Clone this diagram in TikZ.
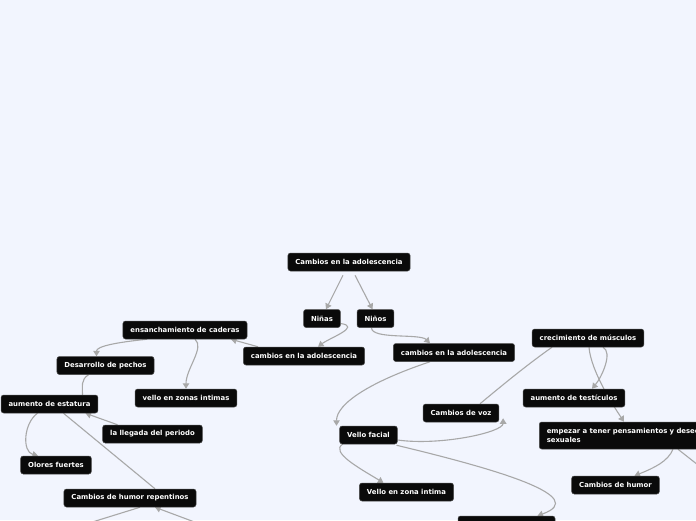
\documentclass[tikz,border=0pt]{standalone}
\usepackage{fontspec}
\setsansfont{DejaVu Sans}
\usepackage{xcolor}
\usepackage{tikz}
\usetikzlibrary{arrows.meta,backgrounds,calc,positioning}
\definecolor{paper}{HTML}{F2F5FE}
\definecolor{ink}{HTML}{0A0A0A}
\definecolor{rim}{HTML}{4A4A4A}
\definecolor{wire}{HTML}{A8A8A8}
\pgfdeclarelayer{paperlayer}
\pgfsetlayers{paperlayer,background,main}
\tikzset{
  font=\sffamily,
  topic/.style={
    draw=rim, line width=0.5pt, fill=ink, rounded corners=2.5pt,
    text=white, font=\sffamily\bfseries\fontsize{6.9}{9}\selectfont,
    minimum height=18pt, inner xsep=7.5pt, inner ysep=2pt
  },
  twoline/.style={topic, text width=160pt, align=left, minimum height=27pt, anchor=west},
  link/.style={-{Triangle[length=5.5pt,width=6.5pt]}, draw=wire, line width=1.1pt},
  plainlink/.style={draw=wire, line width=1.1pt}
}

\begin{document}
\begin{tikzpicture}[x=1pt, y=-1pt]
  \useasboundingbox (0,0) rectangle (696,520);
  \begin{pgfonlayer}{paperlayer}
    \fill[paper] (0,0) rectangle (696,520);
  \end{pgfonlayer}
  \clip (0,0) rectangle (696,520);

  \node[topic] (raiz) at (349,262) {Cambios en la adolescencia};
  \node[topic] (ninas) at (322,318.5) {Niñas};
  \node[topic] (ninos) at (375.5,318.5) {Niños};
  \node[topic] (cambiosNinas) at (304,356) {cambios en la adolescencia};
  \node[topic] (cambiosNinos) at (454,352.5) {cambios en la adolescencia};

  \node[topic] (caderas) at (185,330) {ensanchamiento de caderas};
  \node[topic] (pechos) at (105.5,365.5) {Desarrollo de pechos};
  \node[topic] (vellosIntimos) at (186,398) {vello en zonas intimas};
  \node[topic] (estatura) at (49.5,404) {aumento de estatura};
  \node[topic] (periodo) at (152.5,434) {la llegada del periodo};
  \node[topic] (olores) at (56,465) {Olores fuertes};
  \node[topic] (humorNinas) at (130,498) {Cambios de humor repentinos};

  \node[topic] (musculos) at (588,338) {crecimiento de músculos};
  \node[topic] (voz) at (461,413) {Cambios de voz};
  \node[topic] (testiculos) at (574,398) {aumento de testículos};
  \node[topic] (vellofacial) at (368.5,435) {Vello facial};
  \node[twoline] (deseos) at (539,435.5) {empezar a tener pensamientos y deseos\\sexuales};
  \node[topic] (humorNinos) at (615.5,485) {Cambios de humor};
  \node[topic] (zonaIntima) at (406.5,492) {Vello en zona intima};
  \node[topic, minimum width=97pt] (ocultoVello) at (506.5,525) {};

  \coordinate (fueraIzq) at (60,532);
  \coordinate (fueraDer) at (232,536);
  \coordinate (fueraDeseos) at (712,476);

  \begin{scope}[on background layer]
    \draw[link] ([xshift=-6pt,yshift=-4pt]raiz.south) -- ([xshift=4pt]ninas.north);
    \draw[link] ([xshift=6pt,yshift=-4pt]raiz.south) -- ([xshift=-3pt]ninos.north);
    \draw[link] ([yshift=-5pt]ninas.east) .. controls +(21,3) and +(12,-9) .. ([xshift=14pt]cambiosNinas.north);
    \draw[link] ([xshift=-4pt]ninos.south) .. controls +(0,12) and +(-10,-10) .. ([xshift=-24pt]cambiosNinos.north);

    \draw[link] ([xshift=-46pt]cambiosNinas.north) -- ([xshift=46pt]caderas.south);
    \draw[link] ([xshift=-38pt]caderas.south) .. controls +(-30,3) and +(0,-10) .. ([xshift=-9pt]pechos.north);
    \draw[link] ([xshift=10pt]caderas.south) .. controls +(10,8) and +(0,-20) .. (vellosIntimos.north);
    \draw[plainlink] ([xshift=-17pt]pechos.south) .. controls +(-8,5) and +(0,-8) .. ([xshift=33pt]estatura.north);
    \draw[link] ([xshift=-35pt]periodo.north) -- ([xshift=36pt]estatura.south);
    \draw[plainlink] ([xshift=25pt]humorNinas.north) -- ([xshift=14pt]estatura.south);
    \draw[link] ([xshift=-12pt]estatura.south) .. controls +(-14,10) and +(-16,-4) .. ([xshift=-18pt]olores.north);
    \draw[plainlink] ([xshift=10pt]humorNinas.south) -- (fueraIzq);
    \draw[link] (fueraDer) -- ([xshift=25pt]humorNinas.south);

    \draw[link] ([xshift=-24pt]cambiosNinos.south) .. controls +(-60,20) and +(0,-22) .. ([xshift=-32pt]vellofacial.north);
    \draw[link] ([yshift=-5pt]vellofacial.east) .. controls +(43,6) and +(0,14) .. ([xshift=4pt,yshift=4pt]voz.south east);
    \draw[plainlink] ([xshift=-36pt]musculos.south) .. controls +(-20,14) and +(30,-25) .. ([xshift=19pt]voz.north);
    \draw[link] ([xshift=15pt]musculos.south) .. controls +(10,5) and +(10,-12) .. ([xshift=18pt]testiculos.north);
    \draw[link] ([xshift=1pt]musculos.south) .. controls +(2,25) and +(-8,-12) .. ([xshift=85pt]deseos.north west);
    \draw[link] ([xshift=134pt]deseos.south west) .. controls +(-5,12) and +(20,-8) .. ([xshift=19pt]humorNinos.north);
    \draw[plainlink] ([xshift=139pt]deseos.south west) -- (fueraDeseos);
    \draw[link] ([xshift=-26pt]vellofacial.south) .. controls +(-12,8) and +(-25,-15) .. ([xshift=-23pt]zonaIntima.north);
    \draw[link] ([xshift=28pt,yshift=-1pt]vellofacial.south) .. controls (500,470) and (590,497) .. ([xshift=31pt]ocultoVello.north);
  \end{scope}
\end{tikzpicture}
\end{document}
